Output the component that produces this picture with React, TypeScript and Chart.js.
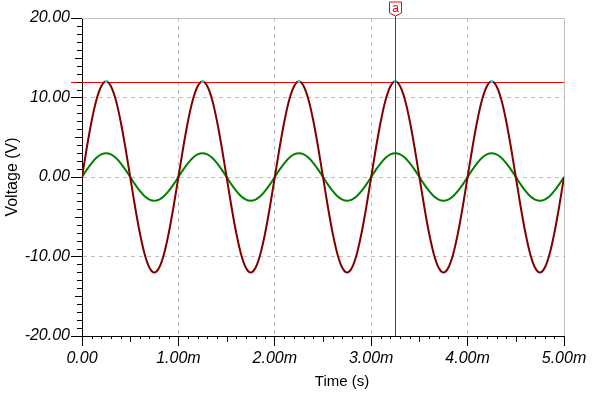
import React, { useEffect, useRef } from "react";
import { Chart, registerables } from "chart.js";

Chart.register(...registerables);

// Time axis samples (ms)
const timeMs = [
  0.0, 0.05, 0.1, 0.15, 0.2, 0.25, 0.3, 0.35, 0.4, 0.45, 0.5, 0.55, 0.6, 0.65, 0.7, 0.75, 0.8, 0.85, 0.9, 0.95,
  1.0, 1.05, 1.1, 1.15, 1.2, 1.25, 1.3, 1.35, 1.4, 1.45, 1.5, 1.55, 1.6, 1.65, 1.7, 1.75, 1.8, 1.85, 1.9, 1.95,
  2.0, 2.05, 2.1, 2.15, 2.2, 2.25, 2.3, 2.35, 2.4, 2.45, 2.5, 2.55, 2.6, 2.65, 2.7, 2.75, 2.8, 2.85, 2.9, 2.95,
  3.0, 3.05, 3.1, 3.15, 3.2, 3.25, 3.3, 3.35, 3.4, 3.45, 3.5, 3.55, 3.6, 3.65, 3.7, 3.75, 3.8, 3.85, 3.9, 3.95,
  4.0, 4.05, 4.1, 4.15, 4.2, 4.25, 4.3, 4.35, 4.4, 4.45, 4.5, 4.55, 4.6, 4.65, 4.7, 4.75, 4.8, 4.85, 4.9, 4.95,
  5.0,
];

// Output voltage (dark red)
const voltageOut = [
  0, 3.71, 7.05, 9.71, 11.41, 12, 11.41, 9.71, 7.05, 3.71, 0, -3.71, -7.05, -9.71, -11.41, -12, -11.41, -9.71, -7.05, -3.71,
  0, 3.71, 7.05, 9.71, 11.41, 12, 11.41, 9.71, 7.05, 3.71, 0, -3.71, -7.05, -9.71, -11.41, -12, -11.41, -9.71, -7.05, -3.71,
  0, 3.71, 7.05, 9.71, 11.41, 12, 11.41, 9.71, 7.05, 3.71, 0, -3.71, -7.05, -9.71, -11.41, -12, -11.41, -9.71, -7.05, -3.71,
  0, 3.71, 7.05, 9.71, 11.41, 12, 11.41, 9.71, 7.05, 3.71, 0, -3.71, -7.05, -9.71, -11.41, -12, -11.41, -9.71, -7.05, -3.71,
  0, 3.71, 7.05, 9.71, 11.41, 12, 11.41, 9.71, 7.05, 3.71, 0, -3.71, -7.05, -9.71, -11.41, -12, -11.41, -9.71, -7.05, -3.71,
  0,
];

// Input voltage (green)
const voltageIn = [
  0, 0.93, 1.76, 2.43, 2.85, 3, 2.85, 2.43, 1.76, 0.93, 0, -0.93, -1.76, -2.43, -2.85, -3, -2.85, -2.43, -1.76, -0.93,
  0, 0.93, 1.76, 2.43, 2.85, 3, 2.85, 2.43, 1.76, 0.93, 0, -0.93, -1.76, -2.43, -2.85, -3, -2.85, -2.43, -1.76, -0.93,
  0, 0.93, 1.76, 2.43, 2.85, 3, 2.85, 2.43, 1.76, 0.93, 0, -0.93, -1.76, -2.43, -2.85, -3, -2.85, -2.43, -1.76, -0.93,
  0, 0.93, 1.76, 2.43, 2.85, 3, 2.85, 2.43, 1.76, 0.93, 0, -0.93, -1.76, -2.43, -2.85, -3, -2.85, -2.43, -1.76, -0.93,
  0, 0.93, 1.76, 2.43, 2.85, 3, 2.85, 2.43, 1.76, 0.93, 0, -0.93, -1.76, -2.43, -2.85, -3, -2.85, -2.43, -1.76, -0.93,
  0,
];

const peakTimes = [0.25, 1.25, 2.25, 3.25, 4.25];
const peakValues = [12, 12, 12, 12, 12];
const limitLevel = 12;
const cursorTime = 3.25;
const cursorLabel = "a";
const xTitle = "Time (s)";
const yTitle = "Voltage (V)";
const xMin = 0, xMax = 5, xStep = 1, xMinorStep = 0.1;
const yMin = -20, yMax = 20, yStep = 10, yMinorStep = 1;

const FONT = '"Liberation Sans", Arial, sans-serif';

const decorPlugin = {
  id: "decor",
  beforeDatasetsDraw(chart: any) {
    const { ctx, chartArea } = chart;
    const ys = chart.scales.y;
    ctx.save();
    // top and right frame
    ctx.strokeStyle = "#c0c0c0";
    ctx.lineWidth = 1;
    ctx.beginPath();
    ctx.moveTo(chartArea.left, Math.round(chartArea.top) + 0.5);
    ctx.lineTo(Math.round(chartArea.right) + 0.5, Math.round(chartArea.top) + 0.5);
    ctx.lineTo(Math.round(chartArea.right) + 0.5, chartArea.bottom);
    ctx.stroke();
    // limit line
    const ly = Math.round(ys.getPixelForValue(limitLevel)) + 0.5;
    ctx.strokeStyle = "#ff0000";
    ctx.beginPath();
    ctx.moveTo(chartArea.left - 11, ly);
    ctx.lineTo(chartArea.right, ly);
    ctx.stroke();
    ctx.restore();
  },
  afterDatasetsDraw(chart: any) {
    const { ctx, chartArea } = chart;
    const xs = chart.scales.x;
    const cx = Math.round(xs.getPixelForValue(cursorTime)) + 0.5;
    ctx.save();
    ctx.strokeStyle = "#e00000";
    ctx.lineWidth = 1;
    ctx.beginPath();
    ctx.moveTo(cx, chartArea.top - 2);
    ctx.lineTo(cx, chartArea.bottom);
    ctx.stroke();
    // label flag
    const top = chartArea.top - 16;
    ctx.strokeStyle = "#ff0000";
    ctx.fillStyle = "#ffffff";
    ctx.beginPath();
    ctx.moveTo(cx - 6, top);
    ctx.lineTo(cx + 6, top);
    ctx.lineTo(cx + 6, top + 11);
    ctx.lineTo(cx, top + 14);
    ctx.lineTo(cx - 6, top + 11);
    ctx.closePath();
    ctx.fill();
    ctx.stroke();
    ctx.fillStyle = "#ff0000";
    ctx.font = `12px ${FONT}`;
    ctx.textAlign = "center";
    ctx.textBaseline = "middle";
    ctx.fillText(cursorLabel, cx, top + 7);
    ctx.restore();
  },
  afterDraw(chart: any) {
    const { ctx, chartArea } = chart;
    const xs = chart.scales.x;
    const ys = chart.scales.y;
    ctx.save();
    ctx.strokeStyle = "#000";
    ctx.lineWidth = 1;
    ctx.beginPath();
    const nx = Math.round((xMax - xMin) / xMinorStep);
    for (let i = 0; i <= nx; i++) {
      if (i % 10 === 0) continue;
      const v = xMin + i * xMinorStep;
      const px = Math.round(xs.getPixelForValue(v)) + 0.5;
      const len = i % 5 === 0 ? 6 : 3;
      ctx.moveTo(px, chartArea.bottom);
      ctx.lineTo(px, chartArea.bottom + len);
    }
    const ny = Math.round((yMax - yMin) / yMinorStep);
    for (let i = 0; i <= ny; i++) {
      if (i % 10 === 0) continue;
      const v = yMin + i * yMinorStep;
      const py = Math.round(ys.getPixelForValue(v)) + 0.5;
      const len = i % 5 === 0 ? 7 : 5;
      ctx.moveTo(chartArea.left - len, py);
      ctx.lineTo(chartArea.left, py);
    }
    ctx.stroke();
    // titles
    ctx.fillStyle = "#000";
    ctx.textAlign = "center";
    ctx.textBaseline = "middle";
    ctx.font = `15px ${FONT}`;
    ctx.fillText(xTitle, (chartArea.left + chartArea.right) / 2 + 19, 382);
    ctx.translate(13, (chartArea.top + chartArea.bottom) / 2);
    ctx.rotate(-Math.PI / 2);
    ctx.font = `16px ${FONT}`;
    ctx.fillText(yTitle, 0, 0);
    ctx.restore();
  },
};

export default function App() {
  const ref = useRef<HTMLCanvasElement | null>(null);
  useEffect(() => {
    if (!ref.current) return;
    const chart = new Chart(ref.current, {
      type: "line",
      data: {
        datasets: [
          {
            label: "peaks",
            data: peakTimes.map((t, i) => ({ x: t, y: peakValues[i] })),
            showLine: false,
            pointStyle: "rect",
            pointRadius: 1.8,
            pointBackgroundColor: "#40d0d0",
            pointBorderColor: "#40d0d0",
            pointBorderWidth: 0,
            order: 0,
          },
          {
            label: "VF1",
            data: timeMs.map((t, i) => ({ x: t, y: voltageIn[i] })),
            borderColor: "#008000",
            borderWidth: 2,
            pointRadius: 0,
            cubicInterpolationMode: "monotone",
            order: 2,
          },
          {
            label: "VF2",
            data: timeMs.map((t, i) => ({ x: t, y: voltageOut[i] })),
            borderColor: "#800000",
            borderWidth: 2,
            pointRadius: 0,
            cubicInterpolationMode: "monotone",
            order: 1,
          },
        ],
      },
      options: {
        animation: false,
        responsive: false,
        events: [],
        layout: { padding: { top: 18, right: 30, left: 0, bottom: 0 } },
        plugins: { legend: { display: false }, tooltip: { enabled: false } },
        scales: {
          x: {
            type: "linear",
            min: xMin,
            max: xMax,
            afterFit: (s: any) => { s.height = 61; },
            ticks: {
              stepSize: xStep,
              color: "#000",
              padding: 3,
              maxRotation: 0,
              font: { family: FONT, size: 16, style: "italic" },
              callback: (v: any) => (v === 0 ? "0.00" : `${Number(v).toFixed(2)}m`),
            },
            grid: {
              color: (c: any) => (c.tick && (c.tick.value === xMin || c.tick.value === xMax) ? "rgba(0,0,0,0)" : "#c0c0c0"),
              tickColor: "#000",
              tickLength: 10,
              lineWidth: 1,
            },
            border: { color: "#000", width: 1, dash: [4, 4] },
          },
          y: {
            type: "linear",
            min: yMin,
            max: yMax,
            afterFit: (s: any) => { s.width = 82; },
            ticks: {
              stepSize: yStep,
              color: "#000",
              padding: 1,
              font: { family: FONT, size: 16, style: "italic" },
              callback: (v: any) => Number(v).toFixed(2),
            },
            grid: {
              color: (c: any) => (c.tick && (c.tick.value === yMin || c.tick.value === yMax) ? "rgba(0,0,0,0)" : "#c0c0c0"),
              tickColor: "#000",
              tickLength: 11,
              lineWidth: 1,
            },
            border: { color: "#000", width: 1, dash: [4, 4] },
          },
        },
      },
      plugins: [decorPlugin],
    });
    return () => chart.destroy();
  }, []);
  return (
    <div style={{ position: "absolute", left: 0, top: 0, width: 594, height: 397, background: "#fff" }}>
      <canvas ref={ref} width={594} height={397} style={{ display: "block" }} />
    </div>
  );
}
